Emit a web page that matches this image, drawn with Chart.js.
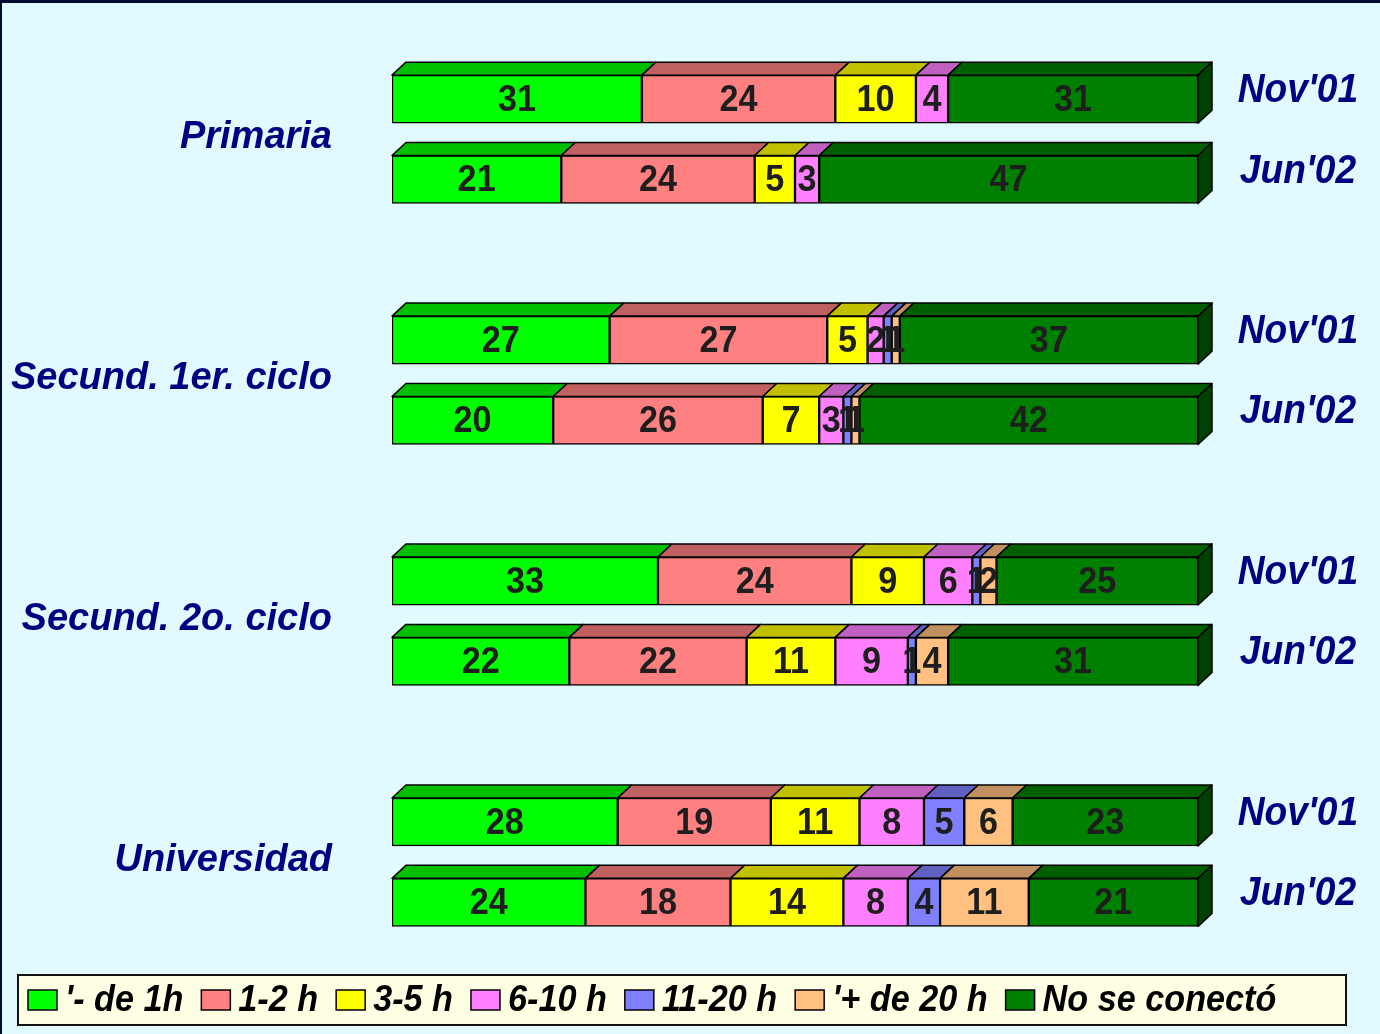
<!DOCTYPE html>
<html>
<head>
<meta charset="utf-8">
<script src="https://cdn.jsdelivr.net/npm/chart.js@4.4.1/dist/chart.umd.min.js"></script>
<style>
  html, body { margin: 0; padding: 0; background: #000c2e; }
  #wrap { position: absolute; left: 0; top: 0; width: 1380px; height: 1034px; }
</style>
</head>
<body>
<div id="wrap"><canvas id="hoursChart" width="1380" height="1034"></canvas></div>
<script>
// Groups and survey periods (two bars per group)
const groups = ['Primaria', 'Secund. 1er. ciclo', 'Secund. 2o. ciclo', 'Universidad'];
const periods = ["Nov'01", "Jun'02"];

// Percentages per bar, order: Primaria Nov/Jun, Sec1 Nov/Jun, Sec2 Nov/Jun, Univ Nov/Jun
const lessThan1h   = [31, 21, 27, 20, 33, 22, 28, 24];
const oneToTwo     = [24, 24, 27, 26, 24, 22, 19, 18];
const threeToFive  = [10,  5,  5,  7,  9, 11, 11, 14];
const sixToTen     = [ 4,  3,  2,  3,  6,  9,  8,  8];
const elevenTo20   = [ 0,  0,  1,  1,  1,  1,  5,  4];
const moreThan20   = [ 0,  0,  1,  1,  2,  4,  6, 11];
const notConnected = [31, 47, 37, 42, 25, 31, 23, 21];

const seriesNames = ["'- de 1h", '1-2 h', '3-5 h', '6-10 h', '11-20 h', "'+ de 20 h", 'No se conectó'];
const seriesData = [lessThan1h, oneToTwo, threeToFive, sixToTen, elevenTo20, moreThan20, notConnected];
const frontColors = ['#00ff00', '#ff8080', '#ffff00', '#ff80ff', '#8080ff', '#ffc080', '#008000'];
const topColors   = ['#00c000', '#c06060', '#c0c000', '#c060c0', '#6060c0', '#c09060', '#006000'];
const sideColor = '#004000';

// rows on the category axis: two bars, then an empty spacer row
const rowLabels = [];
const rowIndex = [];
groups.forEach((g, gi) => {
  periods.forEach(p => { rowIndex.push(rowLabels.length); rowLabels.push(p); });
  if (gi < groups.length - 1) rowLabels.push('');
});

function toRows(arr) {
  const out = rowLabels.map(() => null);
  arr.forEach((v, i) => { out[rowIndex[i]] = v > 0 ? v : null; });
  return out;
}

const DX = 14, DY = 13;

// narrow text like the original (glyphs squeezed horizontally)
function narrowText(c, txt, x, y, sx) {
  c.save();
  c.translate(x, y);
  c.scale(sx, 1);
  c.fillText(txt, 0, 0);
  c.restore();
}

const pageBg = {
  id: 'pageBg',
  beforeDraw(chart) {
    const c = chart.ctx;
    c.save();
    c.fillStyle = '#000c2e';
    c.fillRect(0, 0, chart.width, chart.height);
    c.fillStyle = '#e0faff';
    c.fillRect(2, 3, chart.width - 2, chart.height - 3);
    c.restore();
  }
};

// 3D top faces and right side face
const bars3d = {
  id: 'bars3d',
  afterDatasetsDraw(chart) {
    const c = chart.ctx;
    c.save();
    c.lineWidth = 1.5;
    c.strokeStyle = '#000';
    c.lineJoin = 'round';
    chart.data.datasets.forEach((ds, di) => {
      const meta = chart.getDatasetMeta(di);
      meta.data.forEach((el, i) => {
        if (ds.data[i] == null) return;
        const x0 = el.base, x1 = el.x;
        const top = el.y - el.height / 2, bot = el.y + el.height / 2;
        c.fillStyle = topColors[di];
        c.beginPath();
        c.moveTo(x0, top);
        c.lineTo(x0 + DX, top - DY);
        c.lineTo(x1 + DX, top - DY);
        c.lineTo(x1, top);
        c.closePath();
        c.fill();
        c.stroke();
        if (di === chart.data.datasets.length - 1) {
          c.fillStyle = sideColor;
          c.beginPath();
          c.moveTo(x1, top);
          c.lineTo(x1 + DX, top - DY);
          c.lineTo(x1 + DX, bot - DY);
          c.lineTo(x1, bot);
          c.closePath();
          c.fill();
          c.stroke();
        }
      });
    });
    c.restore();
  }
};

// values on bars, group names left, periods right, and the legend box
const labelsPlugin = {
  id: 'labelsPlugin',
  afterDraw(chart) {
    const c = chart.ctx;
    const yScale = chart.scales.y;
    c.save();
    c.textBaseline = 'middle';
    c.textAlign = 'center';
    c.font = 'bold 36px "Liberation Sans", Arial, sans-serif';
    c.fillStyle = '#1e1e1e';
    chart.data.datasets.forEach((ds, di) => {
      chart.getDatasetMeta(di).data.forEach((el, i) => {
        const v = ds.data[i];
        if (v == null) return;
        narrowText(c, String(v), (el.base + el.x) / 2, el.y + 2, 0.95);
      });
    });

    c.fillStyle = '#000080';
    c.font = 'italic bold 38px "Liberation Sans", Arial, sans-serif';
    c.textAlign = 'right';
    groups.forEach((g, gi) => {
      const yA = yScale.getPixelForValue(rowIndex[gi * 2]);
      const yB = yScale.getPixelForValue(rowIndex[gi * 2 + 1]);
      c.fillText(g, 332, (yA + yB) / 2 - 2);
    });

    c.font = 'italic bold 40px "Liberation Sans", Arial, sans-serif';
    c.textAlign = 'center';
    rowIndex.forEach((r) => {
      narrowText(c, rowLabels[r], 1298, yScale.getPixelForValue(r) - 8, 0.93);
    });

    // legend
    c.fillStyle = '#ffffe4';
    c.fillRect(18, 975, 1328, 50);
    c.lineWidth = 2;
    c.strokeStyle = '#111';
    c.strokeRect(18, 975, 1328, 50);
    c.font = 'italic bold 36px "Liberation Sans", Arial, sans-serif';
    c.textAlign = 'left';
    const sx = 0.95;
    let x = 28;
    seriesNames.forEach((name, i) => {
      c.fillStyle = frontColors[i];
      c.fillRect(x, 990, 29, 20);
      c.lineWidth = 1.5;
      c.strokeStyle = '#000';
      c.strokeRect(x, 990, 29, 20);
      c.fillStyle = '#000';
      narrowText(c, name, x + 37, 1001, sx);
      x += 37 + c.measureText(name).width * sx + 18;
    });
    c.restore();
  }
};

const ctx = document.getElementById('hoursChart').getContext('2d');
new Chart(ctx, {
  type: 'bar',
  data: {
    labels: rowLabels,
    datasets: seriesNames.map((name, i) => ({
      label: name,
      data: toRows(seriesData[i]),
      backgroundColor: frontColors[i],
      borderColor: '#000',
      borderWidth: 1.5,
      borderSkipped: false,
      barThickness: 48
    }))
  },
  options: {
    indexAxis: 'y',
    responsive: false,
    animation: false,
    layout: { padding: { left: 392, right: 182, top: 59, bottom: 91.5 } },
    scales: {
      x: { stacked: true, min: 0, max: 100, display: false },
      y: { stacked: true, display: false }
    },
    plugins: {
      legend: { display: false },
      tooltip: { enabled: false }
    }
  },
  plugins: [pageBg, bars3d, labelsPlugin]
});
</script>
</body>
</html>
